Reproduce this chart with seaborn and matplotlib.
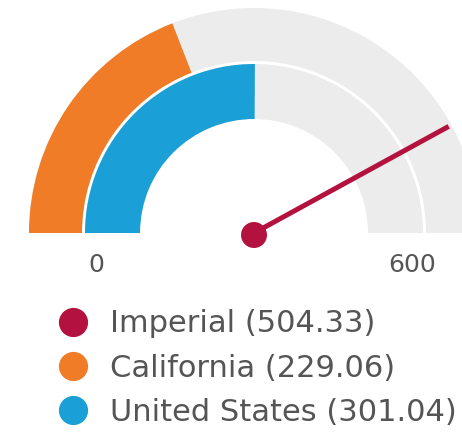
import numpy as np
import matplotlib
matplotlib.use("Agg")
import matplotlib.pyplot as plt
import seaborn as sns
from matplotlib.patches import Wedge, Circle
from matplotlib.lines import Line2D

sns.set_theme(style="white")
plt.rcParams['font.family'] = ['DejaVu Sans']

# gauge data
gauge_min = 0
gauge_max = 600
band_names = ["California", "United States"]
band_values = [229.06, 301.04]
band_colors = ["#f07c28", "#1a9fd6"]
needle_name = "Imperial"
needle_value = 504.33
needle_color = "#b3123f"
track_color = "#ececec"
text_color = "#555555"

# band radii (outer first)
band_radii = [(172, 225), (114, 169)]


def to_angle(v):
    # 0 -> 180 deg (left), max -> 0 deg (right)
    return 180 - (v - gauge_min) / (gauge_max - gauge_min) * 180


fig = plt.figure(figsize=(4.62, 4.33), dpi=100)
ax = fig.add_axes([0, 0, 1, 1])
ax.set_xlim(-254, 208)
ax.set_ylim(-200, 233)
ax.set_aspect('equal')
ax.axis('off')

# gray tracks + value bands
for (r_in, r_out), val, col in zip(band_radii, band_values, band_colors):
    ax.add_patch(Wedge((0, 0), r_out, 0, 180, width=r_out - r_in,
                       facecolor=track_color, edgecolor='none'))
    ax.add_patch(Wedge((0, 0), r_out, to_angle(val), 180, width=r_out - r_in,
                       facecolor=col, edgecolor='none'))

# needle
ang = np.deg2rad(to_angle(needle_value))
needle_len = 222
ax.plot([0, needle_len * np.cos(ang)], [0, needle_len * np.sin(ang)],
        color=needle_color, lw=3.6, solid_capstyle='butt', zorder=5)
ax.add_patch(Circle((0, -2), 13, facecolor=needle_color, edgecolor='none', zorder=6))

# min / max labels
ax.text(-158, -32, str(gauge_min), ha='center', va='center', fontsize=18, color=text_color)
ax.text(158, -32, str(gauge_max), ha='center', va='center', fontsize=18, color=text_color)

# legend
legend_names = [needle_name] + band_names
legend_values = [needle_value] + band_values
legend_colors = [needle_color] + band_colors
handles = [Line2D([], [], marker='o', ls='', ms=20, color=c) for c in legend_colors]
labels = [f"{n} ({v:.2f})" for n, v in zip(legend_names, legend_values)]
leg = ax.legend(handles, labels, loc='upper left', bbox_to_anchor=(0.11, 0.314),
                frameon=False, fontsize=22, handlelength=0.65, handletextpad=0.88,
                labelspacing=0.5, borderaxespad=0)
for t in leg.get_texts():
    t.set_color(text_color)

fig.savefig("out.png", dpi=100)
